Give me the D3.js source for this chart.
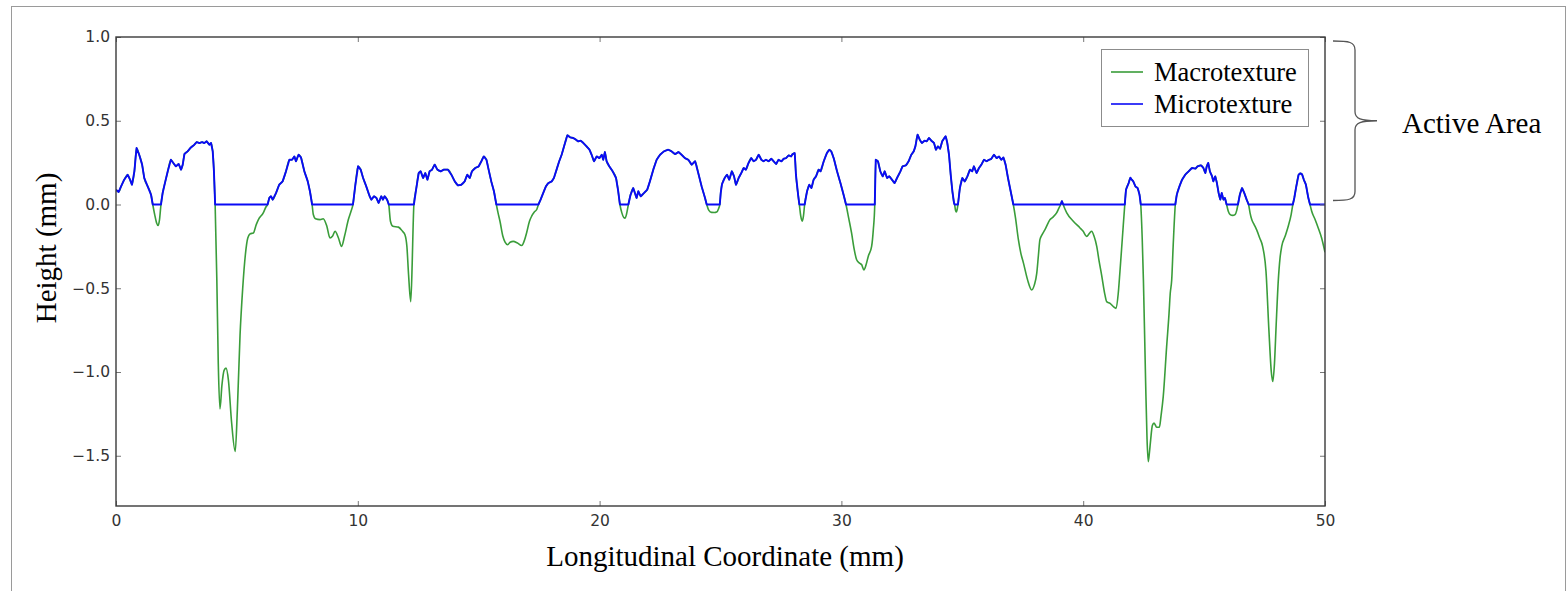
<!DOCTYPE html>
<html>
<head>
<meta charset="utf-8">
<script src="https://cdn.jsdelivr.net/npm/d3@7"></script>
<style>
  html, body { margin: 0; padding: 0; background: #fff; }
  svg { display: block; }
</style>
</head>
<body>
<svg id="chart" width="1567" height="591"></svg>
<script>
// Surface profile along the longitudinal coordinate (mm).
// Each "peak" run is the part of the profile above the zero reference,
// each "valley" run is the part below it (interior points only).
const peaks = [
  [[0,0.088],[0.11,0.075],[0.21,0.108],[0.34,0.148],[0.48,0.178],[0.58,0.148],[0.66,0.118],[0.76,0.198],[0.85,0.337],[0.96,0.297],[1.08,0.238],[1.17,0.158],[1.31,0.108],[1.45,0.058],[1.52,0]],
  [[1.86,0],[1.93,0.069],[2.04,0.138],[2.14,0.198],[2.27,0.267],[2.37,0.248],[2.48,0.228],[2.59,0.242],[2.69,0.208],[2.76,0.238],[2.83,0.301],[2.96,0.317],[3.10,0.341],[3.24,0.357],[3.34,0.373],[3.45,0.367],[3.56,0.373],[3.65,0.367],[3.75,0.377],[3.86,0.357],[3.93,0.367],[4.00,0.317],[4.05,0.2],[4.10,0]],
  [[6.27,0],[6.34,0.039],[6.41,0.049],[6.48,0.029],[6.62,0.069],[6.75,0.118],[6.89,0.138],[7.03,0.198],[7.17,0.267],[7.28,0.267],[7.38,0.287],[7.44,0.258],[7.55,0.297],[7.65,0.281],[7.79,0.198],[7.93,0.138],[8.02,0.079],[8.11,0]],
  [[9.80,0],[9.90,0.118],[10.01,0.228],[10.12,0.208],[10.22,0.158],[10.35,0.108],[10.49,0.049],[10.56,0.029],[10.67,0.049],[10.77,0.039],[10.86,0.009],[10.97,0.049],[11.04,0.029],[11.11,0.049],[11.21,0.029],[11.28,0]],
  [[12.32,0],[12.42,0.098],[12.52,0.188],[12.60,0.198],[12.70,0.158],[12.79,0.188],[12.88,0.148],[12.97,0.198],[13.07,0.208],[13.18,0.238],[13.29,0.208],[13.43,0.198],[13.56,0.208],[13.73,0.208],[13.87,0.178],[14.01,0.138],[14.14,0.114],[14.28,0.118],[14.42,0.138],[14.53,0.178],[14.63,0.158],[14.72,0.198],[14.86,0.218],[15.00,0.228],[15.11,0.258],[15.21,0.287],[15.32,0.267],[15.41,0.208],[15.52,0.138],[15.63,0.079],[15.73,0]],
  [[17.47,0],[17.56,0.029],[17.67,0.069],[17.78,0.108],[17.88,0.128],[18.02,0.138],[18.11,0.158],[18.22,0.208],[18.33,0.258],[18.43,0.297],[18.57,0.367],[18.67,0.413],[18.78,0.401],[18.91,0.397],[19.02,0.387],[19.12,0.377],[19.22,0.381],[19.33,0.367],[19.46,0.347],[19.58,0.327],[19.67,0.297],[19.77,0.258],[19.88,0.287],[19.99,0.277],[20.09,0.297],[20.15,0.267],[20.22,0.313],[20.29,0.258],[20.40,0.228],[20.54,0.198],[20.68,0.158],[20.77,0.079],[20.84,0]],
  [[21.19,0],[21.28,0.058],[21.39,0.098],[21.46,0.069],[21.53,0.039],[21.60,0.079],[21.70,0.049],[21.84,0.069],[21.97,0.089],[22.08,0.138],[22.22,0.208],[22.36,0.267],[22.50,0.297],[22.66,0.317],[22.84,0.327],[22.98,0.317],[23.12,0.301],[23.26,0.313],[23.39,0.297],[23.53,0.277],[23.67,0.267],[23.81,0.238],[23.95,0.258],[24.08,0.188],[24.22,0.108],[24.36,0.039],[24.43,0]],
  [[24.97,0],[25.01,0.07],[25.06,0.12],[25.17,0.158],[25.27,0.178],[25.36,0.148],[25.47,0.198],[25.56,0.168],[25.64,0.118],[25.75,0.158],[25.86,0.188],[25.96,0.218],[26.05,0.208],[26.16,0.248],[26.27,0.277],[26.37,0.258],[26.47,0.267],[26.58,0.297],[26.69,0.267],[26.78,0.258],[26.88,0.267],[26.99,0.258],[27.10,0.273],[27.20,0.258],[27.30,0.242],[27.40,0.267],[27.52,0.258],[27.61,0.273],[27.71,0.277],[27.82,0.293],[27.92,0.287],[27.98,0.301],[28.07,0.307],[28.12,0.178],[28.21,0.058],[28.26,0]],
  [[28.48,0],[28.58,0.079],[28.67,0.118],[28.76,0.098],[28.85,0.148],[28.95,0.168],[29.06,0.208],[29.14,0.198],[29.27,0.258],[29.40,0.307],[29.50,0.327],[29.58,0.317],[29.68,0.277],[29.82,0.198],[29.96,0.128],[30.09,0.058],[30.19,0]],
  [[31.38,0],[31.42,0.267],[31.51,0.258],[31.61,0.198],[31.71,0.168],[31.79,0.198],[31.89,0.158],[31.98,0.168],[32.09,0.148],[32.20,0.128],[32.30,0.158],[32.44,0.198],[32.53,0.228],[32.67,0.234],[32.78,0.258],[32.89,0.297],[32.99,0.317],[33.06,0.347],[33.15,0.417],[33.24,0.387],[33.33,0.367],[33.44,0.381],[33.53,0.377],[33.62,0.397],[33.72,0.381],[33.83,0.367],[33.91,0.327],[33.99,0.347],[34.08,0.333],[34.17,0.377],[34.24,0.393],[34.31,0.407],[34.38,0.367],[34.45,0.297],[34.52,0.178],[34.59,0.079],[34.66,0.008],[34.68,0]],
  [[34.82,0],[34.90,0.098],[35.00,0.158],[35.10,0.138],[35.21,0.168],[35.32,0.208],[35.41,0.198],[35.48,0.228],[35.59,0.188],[35.69,0.218],[35.79,0.238],[35.90,0.267],[36.01,0.258],[36.10,0.267],[36.20,0.273],[36.31,0.297],[36.42,0.277],[36.52,0.287],[36.61,0.267],[36.70,0.281],[36.79,0.238],[36.89,0.158],[37.00,0.079],[37.11,0]],
  [[39.07,0],[39.12,0.02],[39.17,0]],
  [[41.72,0],[41.77,0.088],[41.88,0.128],[41.95,0.16],[42.00,0.15],[42.07,0.138],[42.16,0.108],[42.25,0.098],[42.33,0.058],[42.38,0]],
  [[43.81,0],[43.87,0.058],[43.98,0.108],[44.09,0.148],[44.22,0.178],[44.36,0.198],[44.50,0.218],[44.64,0.214],[44.73,0.228],[44.87,0.234],[44.97,0.218],[45.05,0.188],[45.11,0.228],[45.17,0.248],[45.24,0.198],[45.33,0.168],[45.38,0.138],[45.46,0.168],[45.53,0.128],[45.60,0.069],[45.67,0.029],[45.73,0.069],[45.80,0.029],[45.86,0.039],[45.93,0]],
  [[46.40,0],[46.48,0.06],[46.57,0.098],[46.66,0.069],[46.76,0.029],[46.84,0]],
  [[48.67,0],[48.73,0.039],[48.80,0.098],[48.91,0.178],[48.98,0.186],[49.05,0.18],[49.13,0.146],[49.21,0.118],[49.31,0.04],[49.38,0]]
];

const valleys = [
  [[1.60,-0.06],[1.68,-0.11],[1.74,-0.125],[1.80,-0.09]],
  [[4.17,-0.45],[4.23,-0.95],[4.30,-1.22],[4.38,-1.08],[4.47,-0.99],[4.55,-0.977],[4.65,-1.05],[4.78,-1.30],[4.93,-1.475],[5.02,-1.22],[5.13,-0.78],[5.24,-0.50],[5.35,-0.30],[5.45,-0.20],[5.55,-0.175],[5.68,-0.17],[5.80,-0.12],[5.89,-0.09],[6.09,-0.05],[6.20,-0.015]],
  [[8.16,-0.06],[8.25,-0.085],[8.44,-0.09],[8.57,-0.085],[8.72,-0.13],[8.85,-0.20],[8.95,-0.19],[9.06,-0.16],[9.20,-0.20],[9.33,-0.25],[9.45,-0.19],[9.61,-0.09],[9.72,-0.04]],
  [[11.35,-0.10],[11.45,-0.13],[11.68,-0.135],[11.85,-0.16],[11.95,-0.18],[12.03,-0.25],[12.10,-0.42],[12.19,-0.58],[12.25,-0.35],[12.29,-0.12]],
  [[15.80,-0.05],[15.88,-0.10],[16.00,-0.19],[16.09,-0.225],[16.20,-0.24],[16.30,-0.225],[16.43,-0.22],[16.60,-0.23],[16.78,-0.245],[16.90,-0.21],[16.98,-0.17],[17.10,-0.10],[17.19,-0.07],[17.30,-0.045],[17.40,-0.03]],
  [[20.92,-0.05],[21.00,-0.078],[21.05,-0.082],[21.11,-0.06]],
  [[24.52,-0.035],[24.63,-0.047],[24.75,-0.048],[24.84,-0.045],[24.92,-0.025]],
  [[28.32,-0.07],[28.38,-0.10],[28.43,-0.07]],
  [[30.30,-0.08],[30.42,-0.17],[30.52,-0.26],[30.63,-0.33],[30.75,-0.35],[30.84,-0.36],[30.93,-0.39],[31.02,-0.36],[31.11,-0.31],[31.25,-0.25],[31.32,-0.15]],
  [[34.72,-0.035],[34.75,-0.045],[34.78,-0.035]],
  [[37.20,-0.08],[37.32,-0.21],[37.42,-0.29],[37.53,-0.35],[37.70,-0.45],[37.87,-0.51],[37.98,-0.48],[38.08,-0.41],[38.15,-0.30],[38.21,-0.21],[38.30,-0.18],[38.42,-0.15],[38.63,-0.09],[38.75,-0.075],[38.90,-0.05],[39.00,-0.02]],
  [[39.32,-0.05],[39.59,-0.10],[39.87,-0.14],[40.00,-0.16],[40.14,-0.19],[40.27,-0.17],[40.35,-0.16],[40.45,-0.19],[40.56,-0.25],[40.66,-0.34],[40.76,-0.42],[40.90,-0.54],[40.97,-0.58],[41.11,-0.59],[41.25,-0.61],[41.36,-0.62],[41.45,-0.53],[41.52,-0.40],[41.62,-0.20]],
  [[42.44,-0.20],[42.49,-0.45],[42.58,-1.05],[42.64,-1.40],[42.69,-1.535],[42.74,-1.48],[42.79,-1.405],[42.86,-1.32],[42.93,-1.305],[43.04,-1.33],[43.15,-1.33],[43.22,-1.26],[43.31,-1.147],[43.45,-0.85],[43.55,-0.65],[43.60,-0.53],[43.66,-0.45],[43.72,-0.25]],
  [[46.00,-0.04],[46.08,-0.06],[46.18,-0.065],[46.28,-0.06],[46.35,-0.035]],
  [[46.90,-0.05],[46.97,-0.09],[47.07,-0.12],[47.17,-0.15],[47.30,-0.20],[47.42,-0.25],[47.56,-0.40],[47.68,-0.75],[47.78,-1.00],[47.84,-1.057],[47.91,-0.95],[47.98,-0.72],[48.07,-0.45],[48.14,-0.32],[48.21,-0.25],[48.35,-0.19],[48.48,-0.13],[48.60,-0.06]],
  [[49.45,-0.04],[49.59,-0.09],[49.72,-0.14],[49.86,-0.20],[50.00,-0.285]]
];

const xDomain = [0, 50];
const yDomain = [-1.8, 1.0];
const xTicks = [0, 10, 20, 30, 40, 50];
const yTicks = [1.0, 0.5, 0.0, -0.5, -1.0, -1.5];
const seriesNames = ["Macrotexture", "Microtexture"];
const seriesColors = ["#3a9d3a", "#0a0af5"];

// Full profile: peaks and valleys interleaved in order.
const macroProfile = peaks.flatMap((p, i) => [...p, ...valleys[i]]);
// Active-area profile: only the peak runs, joined along the zero reference.
const microProfile = [...peaks.flat(), [xDomain[1], 0]];

const svg = d3.select("#chart");
const W = 1567, H = 591;
const plot = { left: 116, top: 37, right: 1325, bottom: 506 };

// Outer frame of the figure
svg.append("rect")
  .attr("x", 11.5).attr("y", 6.5)
  .attr("width", W - 13).attr("height", H + 20)
  .attr("fill", "#fff").attr("stroke", "#9a9a9a").attr("stroke-width", 1);

const x = d3.scaleLinear().domain(xDomain).range([plot.left, plot.right]);
const y = d3.scaleLinear().domain(yDomain).range([plot.bottom, plot.top]);

svg.append("defs").append("clipPath").attr("id", "plotClip")
  .append("rect")
  .attr("x", plot.left).attr("y", plot.top)
  .attr("width", plot.right - plot.left).attr("height", plot.bottom - plot.top);

const lines = svg.append("g").attr("clip-path", "url(#plotClip)");

lines.append("path")
  .datum(macroProfile)
  .attr("fill", "none")
  .attr("stroke", seriesColors[0])
  .attr("stroke-width", 1.6)
  .attr("stroke-linejoin", "round")
  .attr("d", d3.line().x(d => x(d[0])).y(d => y(d[1])).curve(d3.curveMonotoneX));

lines.append("path")
  .datum(microProfile)
  .attr("fill", "none")
  .attr("stroke", seriesColors[1])
  .attr("stroke-width", 1.9)
  .attr("stroke-linejoin", "round")
  .attr("d", d3.line().x(d => x(d[0])).y(d => y(d[1])));

// Axes with inward ticks on all four sides
const tickFont = "'DejaVu Sans', sans-serif";
const fmt = d3.format(".1f");

const gLeft = svg.append("g").attr("transform", `translate(${plot.left},0)`)
  .call(d3.axisLeft(y).tickValues(yTicks).tickFormat(fmt).tickSize(-5).tickPadding(6));
const gBottom = svg.append("g").attr("transform", `translate(0,${plot.bottom})`)
  .call(d3.axisBottom(x).tickValues(xTicks).tickFormat(d3.format("d")).tickSize(-5).tickPadding(9));
const gRight = svg.append("g").attr("transform", `translate(${plot.right},0)`)
  .call(d3.axisRight(y).tickValues(yTicks).tickFormat("").tickSize(-5));
const gTop = svg.append("g").attr("transform", `translate(0,${plot.top})`)
  .call(d3.axisTop(x).tickValues(xTicks).tickFormat("").tickSize(-5));

[gLeft, gBottom, gRight, gTop].forEach(g => {
  g.select(".domain").remove();
  g.selectAll(".tick line").attr("stroke", "#777").attr("stroke-width", 1);
  g.selectAll(".tick text")
    .attr("font-family", tickFont).attr("font-size", 15.5).attr("fill", "#333");
});

// Plot frame
svg.append("rect")
  .attr("x", plot.left).attr("y", plot.top)
  .attr("width", plot.right - plot.left).attr("height", plot.bottom - plot.top)
  .attr("fill", "none").attr("stroke", "#3a3a3a").attr("stroke-width", 1.4);

const serif = "'Liberation Serif', 'Times New Roman', serif";

// Axis titles
svg.append("text")
  .attr("transform", "translate(56,248) rotate(-90)")
  .attr("text-anchor", "middle")
  .attr("font-family", serif).attr("font-size", 29).attr("fill", "#000")
  .text("Height (mm)");

svg.append("text")
  .attr("x", 725).attr("y", 566)
  .attr("text-anchor", "middle")
  .attr("font-family", serif).attr("font-size", 29).attr("fill", "#000")
  .text("Longitudinal Coordinate (mm)");

// Legend
const legend = svg.append("g");
legend.append("rect")
  .attr("x", 1101.5).attr("y", 49.5).attr("width", 207).attr("height", 77)
  .attr("fill", "#fff").attr("stroke", "#8c8c8c").attr("stroke-width", 1);
seriesNames.forEach((name, i) => {
  const ly = 72 + i * 32;
  legend.append("line")
    .attr("x1", 1111).attr("x2", 1143).attr("y1", ly).attr("y2", ly)
    .attr("stroke", seriesColors[i]).attr("stroke-width", 1.6);
  legend.append("text")
    .attr("x", 1154).attr("y", ly + 9)
    .attr("font-family", serif).attr("font-size", 26.5).attr("fill", "#000")
    .text(name);
});

// Curly bracket marking the active area (from 0 to the top of the axis)
const bx = 1355, bTop = y(yDomain[1]) + 4, bBot = y(0) - 4, bMid = (bTop + bBot) / 2;
svg.append("path")
  .attr("d", `M1333,${bTop} C1349,${bTop} ${bx},${bTop + 1} ${bx},${bTop + 9}
              L${bx},${bMid - 9} C${bx},${bMid - 2} ${bx + 6},${bMid} ${bx + 22},${bMid}
              C${bx + 6},${bMid} ${bx},${bMid + 2} ${bx},${bMid + 9}
              L${bx},${bBot - 9} C${bx},${bBot - 1} 1349,${bBot} 1333,${bBot}`)
  .attr("fill", "none").attr("stroke", "#555").attr("stroke-width", 1.3);

svg.append("text")
  .attr("x", 1402).attr("y", 133)
  .attr("font-family", serif).attr("font-size", 29).attr("fill", "#000")
  .text("Active Area");
</script>
</body>
</html>
